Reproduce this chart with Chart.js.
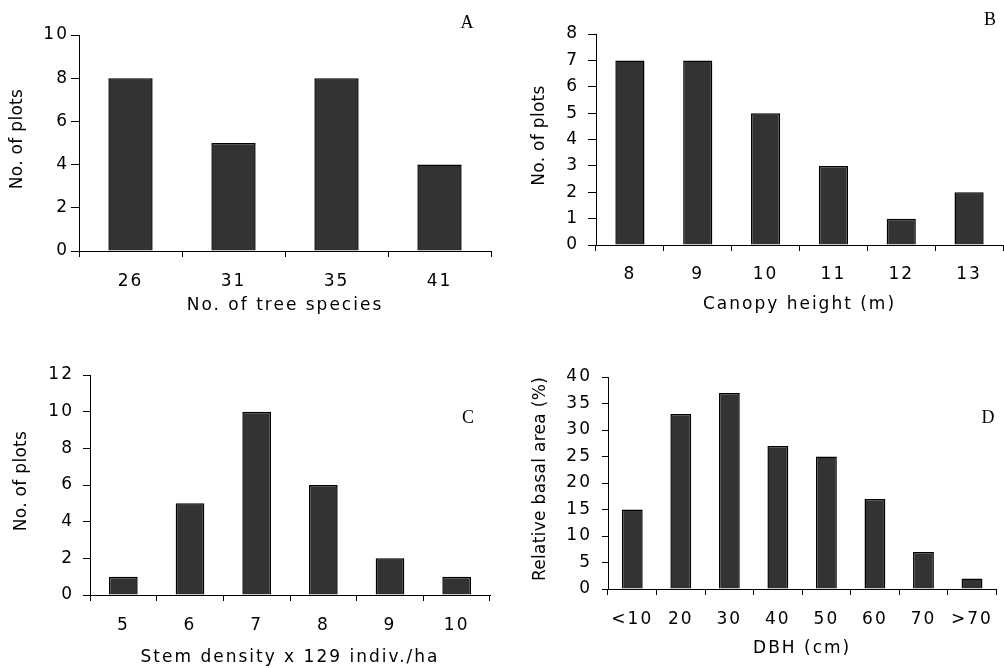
<!DOCTYPE html>
<html>
<head>
<meta charset="utf-8">
<script src="https://cdn.jsdelivr.net/npm/chart.js@4.4.1/dist/chart.umd.min.js"></script>
<style>
  html, body { margin: 0; padding: 0; background: #fff; }
  body { width: 1004px; height: 668px; position: relative; overflow: hidden; }
  canvas { position: absolute; }
  .tag {
    position: absolute;
    font: 18px "Liberation Serif", "Times New Roman", serif;
    color: #000;
    line-height: 1;
    transform: translate(-50%, -50%);
  }
</style>
</head>
<body>
<canvas id="chartA" width="500" height="330" style="left:0;top:0"></canvas>
<canvas id="chartB" width="504" height="330" style="left:500px;top:0"></canvas>
<canvas id="chartC" width="500" height="333" style="left:0;top:335px"></canvas>
<canvas id="chartD" width="504" height="333" style="left:500px;top:335px"></canvas>
<div class="tag" style="left:467px;top:22px">A</div>
<div class="tag" style="left:990px;top:19px">B</div>
<div class="tag" style="left:468px;top:417px">C</div>
<div class="tag" style="left:988px;top:417px">D</div>
<script>
// ── Data ──────────────────────────────────
const speciesLabels = ["26", "31", "35", "41"];
const speciesPlots  = [8, 5, 8, 4];

const heightLabels  = ["8", "9", "10", "11", "12", "13"];
const heightPlots   = [7, 7, 5, 3, 1, 2];

const densityLabels = ["5", "6", "7", "8", "9", "10"];
const densityPlots  = [1, 5, 10, 6, 2, 1];

const dbhLabels     = ["<10", "20", "30", "40", "50", "60", "70", ">70"];
const basalArea     = [15, 33, 37, 27, 25, 17, 7, 2];

// ── Defaults ──────────────────────────────
const SANS = '"DejaVu Sans", Verdana, sans-serif';
Chart.defaults.font.family = SANS;
Chart.defaults.font.size   = 17;
Chart.defaults.color       = "#000";

// wide-set lettering like the scanned figure
const spacingPlugin = {
  id: "spacing",
  beforeDraw(chart) { chart.ctx.letterSpacing = "2px"; }
};

// vertical axis title (tighter spacing than the horizontal text)
const yTitlePlugin = {
  id: "yTitle",
  afterDraw(chart, args, opts) {
    const { ctx, chartArea } = chart;
    ctx.save();
    ctx.letterSpacing = "0.3px";
    ctx.font = "17px " + SANS;
    ctx.fillStyle = "#000";
    ctx.translate(opts.x, (chartArea.top + chartArea.bottom) / 2 + opts.dy);
    ctx.rotate(-Math.PI / 2);
    ctx.textAlign = "center";
    ctx.textBaseline = "middle";
    ctx.fillText(opts.text, 0, 0);
    ctx.restore();
  }
};

function makePanel(id, labels, values, p) {
  return new Chart(document.getElementById(id), {
    type: "bar",
    data: {
      labels,
      datasets: [{
        data: values,
        backgroundColor: "#333333",
        borderColor: "#000",
        borderWidth: 1.5,
        barPercentage: 0.43,
        categoryPercentage: 1,
      }],
    },
    options: {
      responsive: false,
      animation: false,
      devicePixelRatio: 1,
      layout: { padding: { top: p.top, right: p.right, left: 0, bottom: 0 } },
      plugins: {
        legend:  { display: false },
        tooltip: { enabled: false },
        yTitle:  { text: p.yTitle, x: p.yTitleX, dy: -4 },
      },
      scales: {
        x: {
          grid:   { drawOnChartArea: false, color: "#000", tickLength: 6, offset: true },
          border: { color: "#000", width: 1 },
          ticks:  { color: "#000", padding: p.xPad, maxRotation: 0, autoSkip: false },
          title:  { display: true, text: p.xTitle, color: "#000",
                    padding: { top: 0, bottom: p.xTitlePad } },
          afterFit: s => { s.height = p.xHeight; },
        },
        y: {
          min: 0,
          max: p.yMax,
          grid:   { drawOnChartArea: false, color: "#000", tickLength: p.yTick },
          border: { color: "#000", width: 1 },
          ticks:  { stepSize: p.yStep, color: "#000", padding: p.yPad },
          afterFit: s => { s.width = p.yWidth; },
        },
      },
    },
    plugins: [spacingPlugin, yTitlePlugin],
  });
}

// ── Panels ────────────────────────────────
makePanel("chartA", speciesLabels, speciesPlots, {
  top: 35, right: 9, yWidth: 79, xHeight: 79,
  yMax: 10, yStep: 2, yTick: 8, yPad: 2, xPad: 14, xTitlePad: 14,
  xTitle: "No. of tree species", yTitle: "No. of plots", yTitleX: 18,
});

makePanel("chartB", heightLabels, heightPlots, {
  top: 34, right: 1, yWidth: 96, xHeight: 85,
  yMax: 8, yStep: 1, yTick: 8, yPad: 9, xPad: 13, xTitlePad: 15,
  xTitle: "Canopy height (m)", yTitle: "No. of plots", yTitleX: 40,
});

makePanel("chartC", densityLabels, densityPlots, {
  top: 40, right: 10, yWidth: 90, xHeight: 73,
  yMax: 12, yStep: 2, yTick: 7, yPad: 9, xPad: 14, xTitlePad: 0,
  xTitle: "Stem density x 129 indiv./ha", yTitle: "No. of plots", yTitleX: 22,
});

makePanel("chartD", dbhLabels, basalArea, {
  top: 42, right: 1, yWidth: 108, xHeight: 79,
  yMax: 40, yStep: 5, yTick: 6, yPad: 10, xPad: 14, xTitlePad: 9,
  xTitle: "DBH (cm)", yTitle: "Relative basal area (%)", yTitleX: 41,
});
</script>
</body>
</html>
